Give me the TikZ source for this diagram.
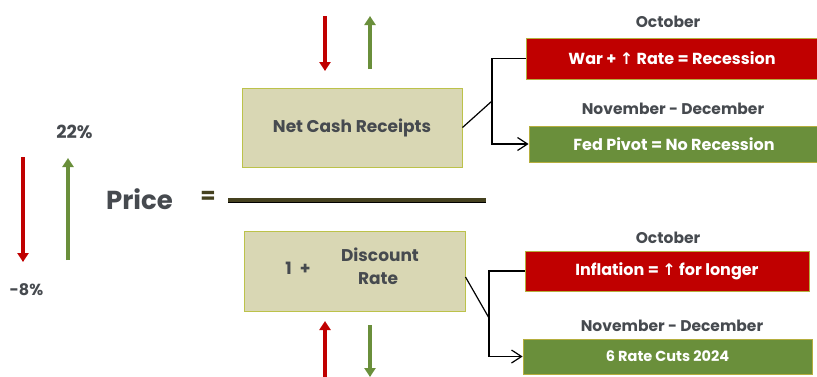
\documentclass[tikz,border=0pt]{standalone}
\usepackage{fontspec}
\setmainfont{Poppins}
\newfontfamily\symfont{DejaVu Sans}
\usetikzlibrary{arrows.meta,calc}
\definecolor{txtgrey}{HTML}{464A4F}
\definecolor{myred}{HTML}{C00000}
\definecolor{mygreen}{HTML}{6A8F3B}
\definecolor{tanfill}{HTML}{D9D7B4}
\definecolor{tanline}{HTML}{BCC24A}
\definecolor{boxline}{HTML}{B5AE3E}
\definecolor{barcol}{HTML}{45411F}
\newcommand{\uparr}{{\symfont\char"2191}}
\tikzset{
  tanbox/.style={draw=tanline, line width=1pt, fill=tanfill, inner sep=0pt},
  redbox/.style={draw=boxline, line width=0.8pt, fill=myred, text=white, font=\bfseries\fontsize{16}{18}\selectfont, inner sep=0pt},
  greenbox/.style={draw=boxline, line width=0.8pt, fill=mygreen, text=white, font=\bfseries\fontsize{16}{18}\selectfont, inner sep=0pt},
  hdr/.style={text=txtgrey, font=\bfseries\fontsize{15.5}{17}\selectfont, inner sep=0pt},
  lbl/.style={text=txtgrey, font=\bfseries\fontsize{16}{18}\selectfont, inner sep=0pt},
  tantext/.style={text=txtgrey, font=\bfseries\fontsize{17}{19}\selectfont, inner sep=0pt},
  bigarrow/.style={line width=3.2pt, -{Triangle[width=11pt,length=9pt]}},
  conn/.style={line width=1.2pt, black},
  opentip/.style={-{Straight Barb[length=10pt,width=13pt]}},
}
\begin{document}
\begin{tikzpicture}[x=1pt,y=-1pt]
\useasboundingbox (0,0) rectangle (817,376);
% left arrows and labels
\coordinate (la1) at (23,157); \coordinate (la2) at (23,262);
\coordinate (lb1) at (68,260); \coordinate (lb2) at (68,158);
\draw[bigarrow, myred] (la1) -- (la2);
\draw[bigarrow, mygreen] (lb1) -- (lb2);
\node[lbl, font=\bfseries\fontsize{18}{20}\selectfont] (p22) at (74.5,132) {22\%};
\node[lbl] (m8) at (26.5,290) {-8\%};
% price
\node[text=txtgrey, font=\bfseries\fontsize{26}{30}\selectfont, inner sep=0pt] (price) at (139.5,199) {Price};
\node[text=barcol, font=\bfseries\fontsize{22}{24}\selectfont, inner sep=0pt] (eq) at (208,197) {=};
\coordinate (b1) at (228,200); \coordinate (b2) at (486,200);
\draw[line width=4.5pt, barcol] (b1) -- (b2);
\draw[line width=1pt, black] ($(b1)+(0,2.5)$) -- ($(b2)+(0,2.5)$);
% tan boxes
\node[tanbox, minimum width=220pt, minimum height=79pt] (ncr) at (352,127.5) {};
\node[tantext] (ncrt) at (352,128) {Net Cash Receipts};
\node[tanbox, minimum width=221pt, minimum height=80pt] (dr) at (354.5,271) {};
\node[tantext] (one) at (298,268) {1\hspace{8pt}+};
\node[tantext] (disc) at (380,255) {Discount};
\node[tantext] (rate) at (378,279) {Rate};
% top / bottom small arrows
\coordinate (t1) at (325,16); \coordinate (t2) at (325,71);
\coordinate (t3) at (370,69); \coordinate (t4) at (370,16);
\draw[bigarrow, myred] (t1) -- (t2);
\draw[bigarrow, mygreen] (t3) -- (t4);
\coordinate (u1) at (325,377); \coordinate (u2) at (325,321);
\coordinate (u3) at (370,325); \coordinate (u4) at (370,377);
\draw[bigarrow, myred] (u1) -- (u2);
\draw[bigarrow, mygreen] (u3) -- (u4);
% right side
\node[hdr] (h1) at (668,22) {October};
\node[redbox, minimum width=292pt, minimum height=41pt] (r1) at (672,58.5) {War + \uparr\ Rate = Recession};
\node[hdr] (h2) at (673,109) {November - December};
\node[greenbox, minimum width=290pt, minimum height=36pt] (g1) at (674,144) {Fed Pivot = No Recession};
\node[hdr] (h3) at (668,238) {October};
\node[redbox, minimum width=284pt, minimum height=40pt] (r2) at (667,271) {Inflation = \uparr\ for longer};
\node[hdr] (h4) at (672,326) {November - December};
\node[greenbox, minimum width=289pt, minimum height=35pt, font=\bfseries\fontsize{14.5}{17}\selectfont] (g2) at (667.5,356.5) {6 Rate Cuts 2024};
% connectors
\coordinate (j1) at (492,101);
\draw[conn] (ncr.east) -- (j1);
\draw[conn, opentip] (r1.west) -| (j1) |- (g1.west);
\coordinate (j2) at (489,318);
\draw[conn] ($(dr.east)+(0,6)$) -- (j2);
\draw[conn, opentip] (r2.west) -| (j2) |- (g2.west);
\end{tikzpicture}
\end{document}
